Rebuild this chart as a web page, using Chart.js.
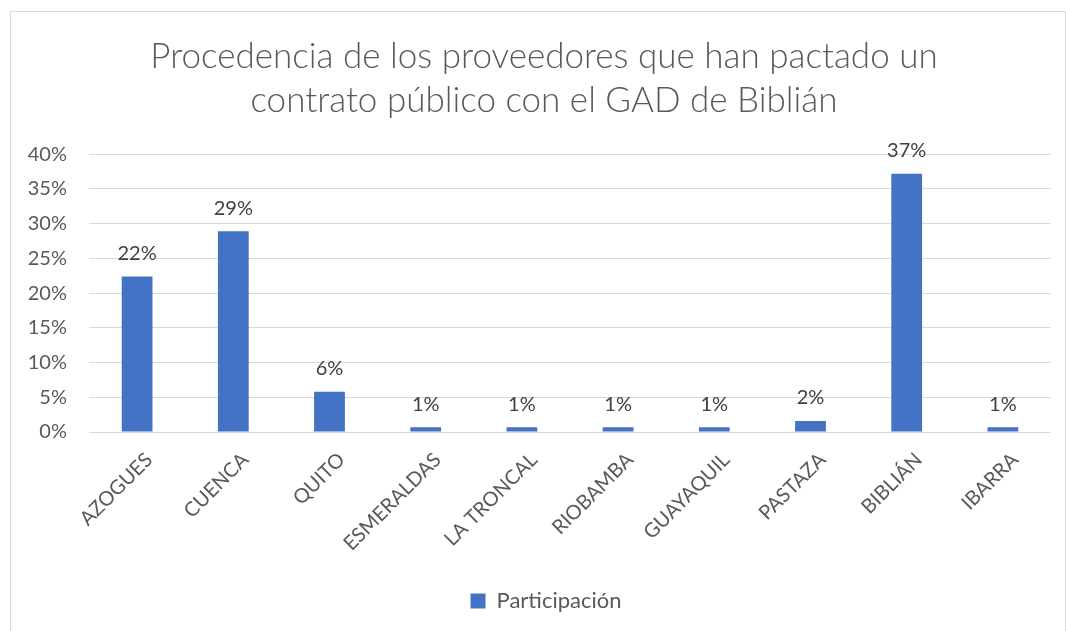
<!DOCTYPE html>
<html>
    <head>
        <meta charset="utf-8">
        <title>Procedencia de los proveedores</title>
        <script src="https://cdn.jsdelivr.net/npm/chart.js@4.4.0/dist/chart.umd.min.js"></script>
        <style>
            html, body {
                margin: 0;
                padding: 0;
                background: #fff;
            }
            #container {
                position: absolute;
                left: 10px;
                top: 11px;
                width: 1054px;
                height: 622px;
                border: 1px solid #d9d9d9;
            }
        </style>
    </head>
    <body>
        <div id="container">
            <canvas id="vis"></canvas>
        </div>
        <script>
            const categories = ['AZOGUES', 'CUENCA', 'QUITO', 'ESMERALDAS', 'LA TRONCAL', 'RIOBAMBA', 'GUAYAQUIL', 'PASTAZA', 'BIBLIÁN', 'IBARRA'];
            const participacion = [22.4, 28.9, 5.8, 0.7, 0.7, 0.7, 0.7, 1.6, 37.2, 0.7];
            const yTicks = [0, 5, 10, 15, 20, 25, 30, 35, 40];

            const fontFamily = 'Lato, "Open Sans", sans-serif';

            // labels above each bar, rounded like Excel does
            const barLabels = {
                id: 'barLabels',
                afterDatasetsDraw(chart) {
                    const ctx = chart.ctx;
                    const meta = chart.getDatasetMeta(0);
                    ctx.save();
                    ctx.font = `20px ${fontFamily}`;
                    ctx.fillStyle = '#404040';
                    ctx.textAlign = 'center';
                    ctx.textBaseline = 'bottom';
                    meta.data.forEach((bar, i) => {
                        ctx.fillText(Math.round(participacion[i]) + '%', bar.x, bar.y - 13);
                    });
                    ctx.restore();
                }
            };

            // Excel centres title and legend a bit right of the canvas middle
            const nudgeBoxes = {
                id: 'nudgeBoxes',
                afterLayout(chart) {
                    if (chart.titleBlock) chart.titleBlock.left += 26;
                    if (chart.legend) chart.legend.left += 30;
                }
            };

            new Chart(document.getElementById('vis'), {
                type: 'bar',
                data: {
                    labels: categories,
                    datasets: [{
                        label: 'Participación',
                        data: participacion,
                        backgroundColor: '#4472c4',
                        borderWidth: 0,
                        categoryPercentage: 1,
                        barPercentage: 0.32
                    }]
                },
                options: {
                    responsive: true,
                    maintainAspectRatio: false,
                    animation: false,
                    layout: {
                        padding: { left: 0, right: 14, top: 23, bottom: 12 }
                    },
                    plugins: {
                        title: {
                            display: true,
                            text: ['Procedencia de los proveedores que han pactado un', 'contrato público con el GAD de Biblián'],
                            color: '#595959',
                            font: { family: fontFamily, size: 35, weight: 300, lineHeight: 1.26 },
                            padding: { top: 0, bottom: 31 }
                        },
                        legend: {
                            position: 'bottom',
                            labels: {
                                color: '#595959',
                                font: { family: fontFamily, size: 22 },
                                boxWidth: 15,
                                boxHeight: 15,
                                padding: 8
                            }
                        },
                        tooltip: { enabled: false }
                    },
                    scales: {
                        x: {
                            grid: { display: false, drawTicks: false },
                            border: { display: false },
                            ticks: {
                                color: '#595959',
                                font: { family: fontFamily, size: 20 },
                                maxRotation: 45,
                                minRotation: 45,
                                padding: 16,
                                labelOffset: 12
                            },
                            afterFit(scale) {
                                scale.height = 150;
                            }
                        },
                        y: {
                            min: 0,
                            max: 40,
                            afterBuildTicks(scale) {
                                scale.ticks = yTicks.map(v => ({ value: v }));
                            },
                            grid: { color: '#d9d9d9', lineWidth: 1, drawTicks: false },
                            border: { display: false },
                            ticks: {
                                color: '#595959',
                                font: { family: fontFamily, size: 20 },
                                padding: 22,
                                callback: v => v + '%'
                            },
                            afterFit(scale) {
                                scale.width = 78;
                            }
                        }
                    }
                },
                plugins: [barLabels, nudgeBoxes]
            });
        </script>
    </body>
</html>
